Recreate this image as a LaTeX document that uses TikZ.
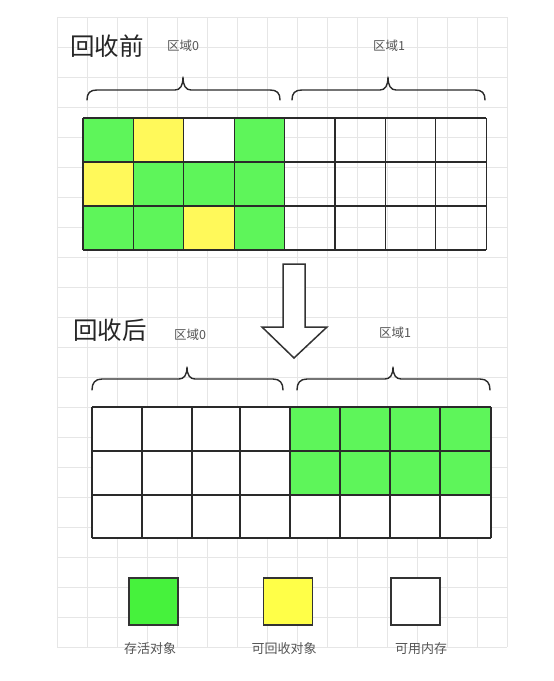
\documentclass[tikz,border=0pt]{standalone}
\usepackage{fontspec}
\newfontfamily\cjk{Noto Sans CJK SC}
\definecolor{gridc}{HTML}{E6E6E6}
\definecolor{cellG}{HTML}{5EF55A}
\definecolor{cellY}{HTML}{FFF95A}
\definecolor{legG}{HTML}{46F23C}
\definecolor{legY}{HTML}{FFFF48}
\definecolor{edgec}{HTML}{2A2A2A}
\definecolor{labc}{HTML}{555555}
\begin{document}
\begin{tikzpicture}[x=1pt,y=-1pt,
  gridline/.style={draw=gridc,line width=0.7pt},
  cellbox/.style={draw=edgec,line width=1.3pt},
  bracec/.style={draw=edgec,line width=1.4pt,line cap=round,line join=round},
  title/.style={font=\cjk\fontsize{24.5}{26}\selectfont,text=black!85,inner sep=0pt},
  small/.style={font=\cjk\fontsize{12.5}{14}\selectfont,text=labc,inner sep=0pt},
  legtext/.style={font=\cjk\fontsize{13}{15}\selectfont,text=labc,inner sep=0pt},
  legbox/.style={draw=black!80,line width=1.6pt,minimum width=49pt,minimum height=47pt,inner sep=0pt}
]
\useasboundingbox (0,0) rectangle (554,681);
\fill[white] (0,0) rectangle (554,681);
% background grid
\foreach \gx in {57,87,...,507} \draw[gridline] (\gx,17) -- (\gx,647);
\foreach \gy in {17,47,...,647} \draw[gridline] (57,\gy) -- (507,\gy);

% ---------- before ----------
\node[title] (t1) at (107,46) {回收前};
\node[small] (r0a) at (183,46) {区域0};
\node[small] (r1a) at (389,46) {区域1};

\draw[bracec] (87,100) .. controls (87,93) and (90,90) .. (97,90) -- (175,90)
  .. controls (180,90) and (183,86) .. (183,77) .. controls (183,86) and (186,90) .. (191,90)
  -- (270,90) .. controls (277,90) and (280,93) .. (280,100);
\draw[bracec] (292,100) .. controls (292,93) and (295,90) .. (302,90) -- (380,90)
  .. controls (385,90) and (388,86) .. (388,77) .. controls (388,86) and (391,90) .. (396,90)
  -- (475,90) .. controls (482,90) and (485,93) .. (485,100);

% top cells
\foreach \r/\row in {0/{cellG,cellY,white,cellG},1/{cellY,cellG,cellG,cellG},2/{cellG,cellG,cellY,cellG}} {
  \foreach \fc [count=\i from 0] in \row {
    \fill[\fc] (83+50.4*\i,118+44*\r) rectangle ++(50.4,44);
  }
}
\foreach \i in {0,...,8} \draw[cellbox] (83+50.4*\i,118) -- (83+50.4*\i,250);
\foreach \r in {0,...,3} \draw[cellbox] (83,118+44*\r) -- (486,118+44*\r);

% arrow
\draw[draw=black!80,fill=white,line width=1.5pt,line join=miter]
  (283,264) -- (305,264) -- (305,327) -- (327,327) -- (294,358) -- (262,327) -- (283,327) -- cycle;

% ---------- after ----------
\node[title] (t2) at (110,330) {回收后};
\node[small] (r0b) at (190,335) {区域0};
\node[small] (r1b) at (395,333) {区域1};

\draw[bracec] (92,390) .. controls (92,383) and (95,379) .. (102,379) -- (179,379)
  .. controls (184,379) and (187,375) .. (187,367) .. controls (187,375) and (190,379) .. (195,379)
  -- (273,379) .. controls (280,379) and (283,383) .. (283,390);
\draw[bracec] (297,390) .. controls (297,383) and (300,379) .. (307,379) -- (385,379)
  .. controls (390,379) and (393,375) .. (393,367) .. controls (393,375) and (396,379) .. (401,379)
  -- (480,379) .. controls (487,379) and (490,383) .. (490,390);

\fill[white] (92,407) rectangle (491,538);
\fill[cellG] (290,407) rectangle (491,495);
\foreach \xx in {92,142,192,240,290,340,390,440,491} \draw[cellbox] (\xx,407) -- (\xx,538);
\foreach \yy in {407,451,495,538} \draw[cellbox] (92,\yy) -- (491,\yy);

% ---------- legend ----------
\node[legbox,fill=legG] (lg) at (153.5,601.5) {};
\node[legbox,fill=legY] (ly) at (288,601.5) {};
\node[legbox,fill=white] (lw) at (415.5,601.5) {};
\node[legtext] (lgt) at (150,649) {存活对象};
\node[legtext] (lyt) at (284,649) {可回收对象};
\node[legtext] (lwt) at (421,649) {可用内存};
\end{tikzpicture}
\end{document}
